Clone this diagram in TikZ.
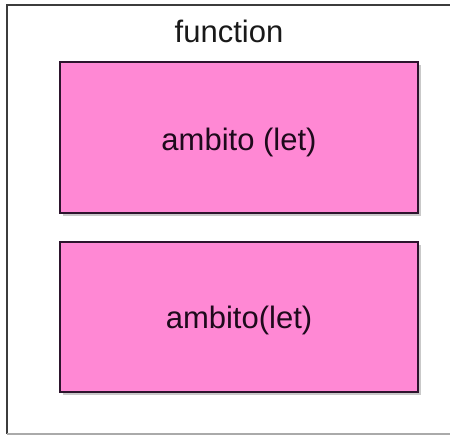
\documentclass[tikz,border=0pt]{standalone}
\usepackage{fontspec}
\setmainfont{Liberation Sans}
\usetikzlibrary{shadows}
\definecolor{pinkfill}{RGB}{255,136,212}
\definecolor{pinkedge}{RGB}{45,20,45}
\definecolor{framedark}{RGB}{60,60,60}
\definecolor{framelight}{RGB}{170,170,170}
\definecolor{txtdark}{RGB}{30,10,28}
\tikzset{
  pinkbox/.style={draw=pinkedge, line width=1.8pt, fill=pinkfill, rectangle,
    inner sep=0pt, minimum width=358pt,
    drop shadow={shadow xshift=2.5pt, shadow yshift=-3pt, opacity=0.35, fill=black!60}},
  lbl/.style={font=\fontsize{31}{37}\selectfont, inner sep=0pt},
}
\begin{document}
\begin{tikzpicture}[x=1pt, y=-1pt]
\useasboundingbox (0,0) rectangle (450,436);
\fill[white] (0,0) rectangle (450,436);
% outer frame
\coordinate (ftr) at (450,5);
\coordinate (ftl) at (7,5);
\coordinate (fbl) at (7,434);
\coordinate (fbr) at (450,434);
\draw[framedark, line width=2pt] (ftr) -- (ftl) -- (fbl);
\draw[framelight, line width=1.5pt] (fbl) -- (fbr);
\node[lbl, anchor=base, text=black!90] (func) at (229,43) {function};
% scopes
\node[pinkbox, minimum height=151pt] (scope1) at (239,137.5) {};
\node[lbl, anchor=base, text=txtdark] (scope1text) at ([yshift=-12.5pt]scope1.center) {ambito (let)};
\node[pinkbox, minimum height=150pt] (scope2) at (239,317) {};
\node[lbl, anchor=base, text=txtdark] (scope2text) at ([yshift=-11pt]scope2.center) {ambito(let)};
\end{tikzpicture}
\end{document}
